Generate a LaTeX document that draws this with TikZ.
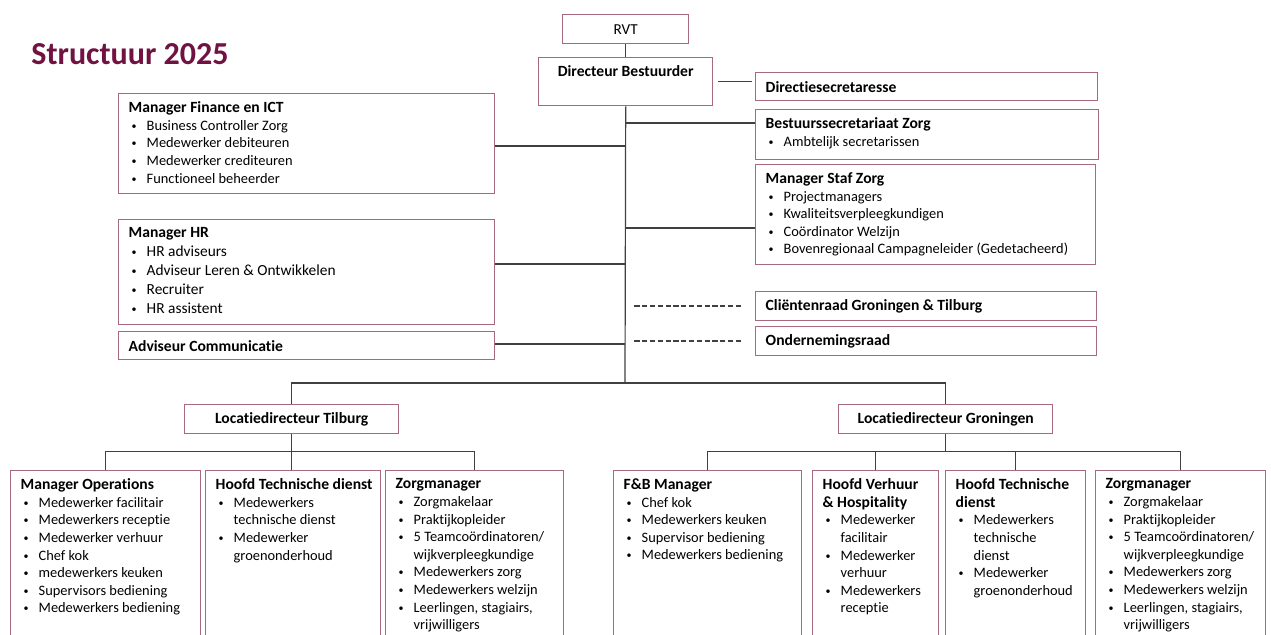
\documentclass[tikz,border=0pt]{standalone}
\usepackage{fontspec}
\setmainfont{Carlito}[Ligatures=NoCommon]
\definecolor{titlecol}{RGB}{112,18,66}
\definecolor{boxline}{RGB}{168,104,128}
\definecolor{linkcol}{RGB}{64,64,64}
\newlength{\px}
\setlength{\px}{0.5pt}
\newcommand*{\hd}[1]{\mbox{\fontsize{7.8}{9}\selectfont\bfseries #1}}
\newcommand*{\itm}[1]{\par\hspace*{1.5pt}\makebox[7.5pt][l]{\raisebox{0.5pt}{\fontsize{5}{6}\selectfont\textbullet}}\mbox{#1}}
\newcommand*{\cnt}[1]{\par\hspace*{9pt}\mbox{#1}}
\newcommand{\topfill}[3]{\parbox[c][\dimexpr#2\px-8pt\relax][t]{\dimexpr#1\px-10pt\relax}{\fontsize{7.2}{8.8}\selectfont #3}}
\newcommand{\midfill}[3]{\parbox[c][\dimexpr#2\px-8pt\relax][c]{\dimexpr#1\px-10pt\relax}{\fontsize{7.2}{8.8}\selectfont #3}}

\begin{document}
\begin{tikzpicture}[x=0.5pt,y=-0.5pt,
    box/.style={draw=boxline,line width=0.7pt,anchor=north west,inner xsep=5pt,inner ysep=4pt},
    link/.style={draw=linkcol,line width=0.6pt},
    council/.style={draw=linkcol,line width=1pt,dash pattern=on 2.6pt off 1.3pt}]
  \useasboundingbox (0,0) rectangle (1271,635);
  \clip (0,0) rectangle (1271,635);

  \node[anchor=west,inner sep=0pt,text=titlecol,font=\fontsize{16}{19}\selectfont\bfseries] (title) at (31,54) {Structuur 2025};

  \node[box] (rvt) at (562,14) {\midfill{126}{29}{\centering\fontsize{7.6}{9}\selectfont RVT}};
  \node[box] (dir) at (538,57) {\topfill{174}{48}{\centering\hd{Directeur Bestuurder}}};
  \node[box] (sec) at (755,72) {\midfill{342}{28}{\hd{Directiesecretaresse}}};
  \node[box] (bsz) at (755,109) {\topfill{343}{50}{\hd{Bestuurssecretariaat Zorg}
      \itm{Ambtelijk secretarissen}}};
  \node[box] (staf) at (755,164) {\topfill{340}{100}{\hd{Manager Staf Zorg}
      \itm{Projectmanagers}
      \itm{Kwaliteitsverpleegkundigen}
      \itm{Coördinator Welzijn}
      \itm{Bovenregionaal Campagneleider (Gedetacheerd)}}};
  \node[box] (client) at (755,291) {\midfill{341}{29}{\hd{Cliëntenraad Groningen \& Tilburg}}};
  \node[box] (ond) at (755,326) {\midfill{341}{29}{\hd{Ondernemingsraad}}};

  \node[box] (fin) at (118,93) {\topfill{376}{100}{\hd{Manager Finance en ICT}
      \itm{Business Controller Zorg}
      \itm{Medewerker debiteuren}
      \itm{Medewerker crediteuren}
      \itm{Functioneel beheerder}}};
  \node[box] (hr) at (118,219) {\topfill{376}{105}{\fontsize{7.7}{9.4}\selectfont\hd{Manager HR}
      \itm{HR adviseurs}
      \itm{Adviseur Leren \& Ontwikkelen}
      \itm{Recruiter}
      \itm{HR assistent}}};
  \node[box] (comm) at (118,331) {\midfill{376}{28}{\hd{Adviseur Communicatie}}};

  \node[box] (til) at (184,404) {\midfill{214}{29}{\centering\hd{Locatiedirecteur Tilburg}}};
  \node[box] (gro) at (838,404) {\midfill{214}{29}{\centering\hd{Locatiedirecteur Groningen}}};

  \node[box] (ops) at (10,470) {\topfill{190}{180}{\hd{Manager Operations}
      \itm{Medewerker facilitair}
      \itm{Medewerkers receptie}
      \itm{Medewerker verhuur}
      \itm{Chef kok}
      \itm{medewerkers keuken}
      \itm{Supervisors bediening}
      \itm{Medewerkers bediening}}};
  \node[box] (htd) at (205,470) {\topfill{175}{180}{\hd{Hoofd Technische dienst}
      \itm{Medewerkers}
      \cnt{technische dienst}
      \itm{Medewerker}
      \cnt{groenonderhoud}}};
  \node[box] (zmt) at (385,470) {\topfill{178}{180}{\hd{Zorgmanager}
      \itm{Zorgmakelaar}
      \itm{Praktijkopleider}
      \itm{5 Teamcoördinatoren/}
      \cnt{wijkverpleegkundige}
      \itm{Medewerkers zorg}
      \itm{Medewerkers welzijn}
      \itm{Leerlingen, stagiairs,}
      \cnt{vrijwilligers}}};

  \node[box] (fb) at (613,470) {\topfill{188}{180}{\hd{F\&B Manager}
      \itm{Chef kok}
      \itm{Medewerkers keuken}
      \itm{Supervisor bediening}
      \itm{Medewerkers bediening}}};
  \node[box] (hvh) at (812,470) {\topfill{126}{180}{\hd{Hoofd Verhuur}\par\hd{\& Hospitality}
      \itm{Medewerker}
      \cnt{facilitair}
      \itm{Medewerker}
      \cnt{verhuur}
      \itm{Medewerkers}
      \cnt{receptie}}};
  \node[box] (htg) at (945,470) {\topfill{140}{180}{\hd{Hoofd Technische}\par\hd{dienst}
      \itm{Medewerkers}
      \cnt{technische}
      \cnt{dienst}
      \itm{Medewerker}
      \cnt{groenonderhoud}}};
  \node[box] (zmg) at (1095,470) {\topfill{170}{180}{\hd{Zorgmanager}
      \itm{Zorgmakelaar}
      \itm{Praktijkopleider}
      \itm{5 Teamcoördinatoren/}
      \cnt{wijkverpleegkundige}
      \itm{Medewerkers zorg}
      \itm{Medewerkers welzijn}
      \itm{Leerlingen, stagiairs,}
      \cnt{vrijwilligers}}};

  \coordinate (trunk) at (625,383);
  \coordinate (jbsz) at (625,123);
  \coordinate (jstaf) at (625,228);
  \coordinate (jfin) at (625,146);
  \coordinate (jhr) at (625,264);
  \coordinate (jcomm) at (625,344);

  \draw[link] (rvt) -- (dir);
  \draw[link,shorten <=2.5pt,shorten >=1.5pt] (dir.east) -- (dir.east -| sec.west);
  \draw[link] (dir.south) -- (trunk);
  \draw[link] (jbsz) -- (jbsz -| bsz.west);
  \draw[link] (jstaf) -- (jstaf -| staf.west);
  \draw[link] (jfin) -- (jfin -| fin.east);
  \draw[link] (jhr) -- (jhr -| hr.east);
  \draw[link] (jcomm) -- (jcomm -| comm.east);
  \draw[council,shorten <=7pt,shorten >=4pt] (client.west) -- (client.west -| trunk);
  \draw[council,shorten <=7pt,shorten >=4pt] (ond.west) -- (ond.west -| trunk);
  \draw[link] (til.north) |- (trunk) -| (gro.north);

  \draw[link] (til.south) -- ++(0,17) coordinate (tsplit);
  \draw[link] (ops.north) |- (tsplit) -| (zmt.north);
  \draw[link] (tsplit) -- (tsplit |- htd.north);

  \draw[link] (gro.south) -- ++(0,17) coordinate (gsplit);
  \draw[link] (fb.north) |- (gsplit) -| (zmg.north);
  \draw[link] (hvh.north) -- (hvh.north |- gsplit);
  \draw[link] (htg.north) -- (htg.north |- gsplit);
\end{tikzpicture}
\end{document}
